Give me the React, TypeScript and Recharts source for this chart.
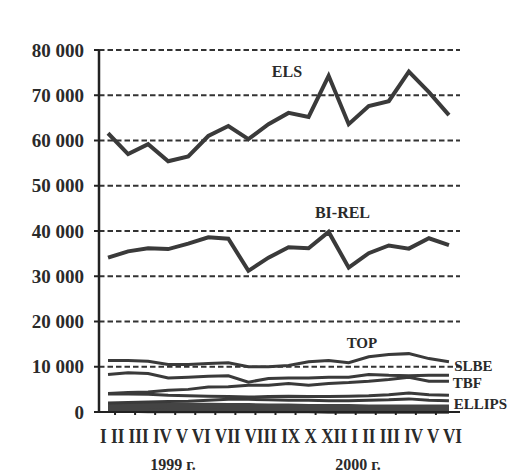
import { LineChart, Line, XAxis, YAxis, CartesianGrid, ReferenceDot } from "recharts";

// month labels as printed under the axis (XI is missing in the source)
const MONTHS = ["I", "II", "III", "IV", "V", "VI", "VII", "VIII", "IX", "X", "XII", "I", "II", "III", "IV", "V", "VI"];
const YEARS = ["1999 г.", "2000 г."];
const Y_TICKS = [0, 10000, 20000, 30000, 40000, 50000, 60000, 70000, 80000];

const ELS = [61600, 57000, 59200, 55400, 56500, 61000, 63200, 60300, 63600, 66100, 65200, 74300, 63600, 67600, 68700, 75200, 70700, 65600];
const BI_REL = [34100, 35500, 36200, 36000, 37200, 38600, 38300, 31200, 34100, 36400, 36200, 39800, 31900, 35100, 36800, 36100, 38400, 36900];
const TOP = [11400, 11400, 11200, 10500, 10500, 10700, 10900, 10000, 10000, 10300, 11100, 11400, 10900, 12200, 12700, 12900, 11800, 11100];
const SLBE = [8300, 8700, 8500, 7500, 7700, 7900, 8000, 6600, 7400, 7500, 7500, 7700, 7700, 8300, 8100, 8000, 8100, 8100];
const TBF = [4100, 4300, 4400, 4800, 5000, 5500, 5600, 5900, 5900, 6300, 5900, 6300, 6500, 6800, 7200, 7700, 6800, 6800];
const ELLIPS_A = [4000, 4000, 3900, 3700, 3600, 3500, 3400, 3300, 3400, 3500, 3400, 3400, 3500, 3600, 3800, 4200, 3800, 3700];
const ELLIPS_B = [2000, 2100, 2200, 2300, 2400, 2600, 2800, 2800, 2700, 2600, 2600, 2500, 2500, 2600, 2700, 2900, 2600, 2500];
const ELLIPS_C = [1500, 1500, 1500, 1400, 1400, 1400, 1300, 1300, 1200, 1200, 1100, 1100, 1100, 1000, 1000, 1000, 1000, 1000];
const ELLIPS_D = [600, 600, 500, 500, 500, 500, 500, 500, 500, 500, 500, 400, 400, 400, 400, 400, 400, 400];

const DATA = ELS.map((v, i) => ({
  i,
  els: v,
  birel: BI_REL[i],
  top: TOP[i],
  slbe: SLBE[i],
  tbf: TBF[i],
  ea: ELLIPS_A[i],
  eb: ELLIPS_B[i],
  ec: ELLIPS_C[i],
  ed: ELLIPS_D[i],
}));

// name tags placed beside the lines (x in point index, y in value)
const TAGS = [
  { text: "ELS", x: 8.92, y: 75250, size: 16 },
  { text: "BI-REL", x: 11.69, y: 44200, size: 16 },
  { text: "TOP", x: 12.66, y: 15250, size: 15 },
  { text: "SLBE", x: 18.22, y: 10170, size: 15 },
  { text: "TBF", x: 17.92, y: 6400, size: 15 },
  { text: "ELLIPS", x: 18.57, y: 1770, size: 15 },
];

const FONT = "'Liberation Serif', 'Times New Roman', serif";
const INK = "#2a2a2a";
const LINE = "#3a3a3a";

const fmt = (v: number) => String(v).replace(/\B(?=(\d{3})+(?!\d))/g, " ");

function MonthRow(props: any) {
  const vb = props.viewBox || { x: 99, y: 412, width: 361, height: 30 };
  return (
    <g fontFamily={FONT} fontWeight={700} fill={INK}>
      <text x={vb.x + 1} y={vb.y + 31} fontSize={20} textLength={362} lengthAdjust="spacingAndGlyphs">
        {MONTHS.join(" ")}
      </text>
      <text x={vb.x + 74} y={vb.y + 58} fontSize={16} textAnchor="middle">{YEARS[0]}</text>
      <text x={vb.x + 259} y={vb.y + 58} fontSize={16} textAnchor="middle">{YEARS[1]}</text>
    </g>
  );
}

export default function App() {
  const thin = { type: "linear" as const, dot: false, isAnimationActive: false, stroke: LINE };
  return (
    <div style={{ position: "absolute", left: 0, top: 0, background: "#fff" }}>
      <LineChart width={530} height={476} data={DATA} margin={{ top: 50, right: 70, left: 0, bottom: 34 }}>
        <CartesianGrid vertical={false} strokeDasharray="5.5 3" stroke="#333" strokeWidth={2} />
        <XAxis
          type="number"
          dataKey="i"
          domain={[-0.45, 17.55]}
          ticks={MONTHS.map((_, k) => k + 0.35)}
          tickFormatter={() => ""}
          tickSize={3}
          height={30}
          axisLine={{ stroke: "#222", strokeWidth: 2 }}
          tickLine={{ stroke: "#222", strokeWidth: 2 }}
          label={<MonthRow />}
        />
        <YAxis
          domain={[0, 80000]}
          ticks={Y_TICKS}
          width={99}
          tickSize={5}
          tickMargin={10}
          tickFormatter={fmt}
          axisLine={{ stroke: "#222", strokeWidth: 2.5 }}
          tickLine={{ stroke: "#222", strokeWidth: 2 }}
          tick={{ fill: INK, fontSize: 19, fontWeight: 700, fontFamily: FONT }}
        />
        <Line {...thin} dataKey="ed" strokeWidth={7} stroke="#444" />
        <Line {...thin} dataKey="ec" strokeWidth={6} stroke="#444" />
        <Line {...thin} dataKey="eb" strokeWidth={3} />
        <Line {...thin} dataKey="ea" strokeWidth={3} />
        <Line {...thin} dataKey="tbf" strokeWidth={3} />
        <Line {...thin} dataKey="slbe" strokeWidth={3} />
        <Line {...thin} dataKey="top" strokeWidth={3} />
        <Line {...thin} dataKey="birel" strokeWidth={4} />
        <Line {...thin} dataKey="els" strokeWidth={4} />
        {TAGS.map((t) => (
          <ReferenceDot
            key={t.text}
            x={t.x}
            y={t.y}
            r={0}
            fill="none"
            stroke="none"
            ifOverflow="visible"
            label={{ value: t.text, position: "center", fill: INK, fontSize: t.size, fontWeight: 700, fontFamily: FONT }}
          />
        ))}
      </LineChart>
    </div>
  );
}
